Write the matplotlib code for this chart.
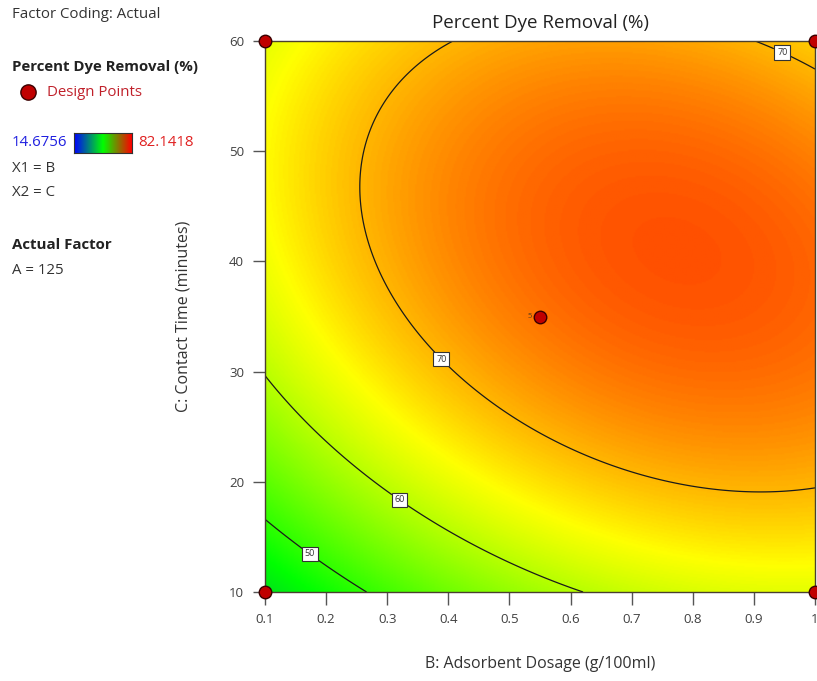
import numpy as np
import matplotlib
matplotlib.use("Agg")
import matplotlib.pyplot as plt
from matplotlib.colors import LinearSegmentedColormap, Normalize

plt.rcParams['font.family'] = ['Open Sans', 'DejaVu Sans']

# response range of the design (legend)
y_low, y_high = 14.6756, 82.1418

# quadratic model in coded units
b0 = 74.4
b_B = 6.33
b_C = 6.40
b_BC = -3.79
b_BB = -5.45
b_CC = -9.45

B_range = [0.1, 1.0]
C_range = [10, 60]
contour_levels = [50, 60, 70]
label_spots = [(0.175, 13.6), (0.323, 18.6), (0.39, 31.2), (0.95, 59.4)]

dp_B = [0.1, 0.1, 1.0, 1.0, 0.55]
dp_C = [10, 60, 10, 60, 35]
center_reps = "5"

x_ticks = [0.1, 0.2, 0.3, 0.4, 0.5, 0.6, 0.7, 0.8, 0.9, 1]
x_tick_labels = ["0.1", "0.2", "0.3", "0.4", "0.5", "0.6", "0.7", "0.8", "0.9", "1"]
y_ticks = [10, 20, 30, 40, 50, 60]


def model(B, C):
    u = (B - 0.55) / 0.45
    v = (C - 35) / 25
    return b0 + b_B*u + b_C*v + b_BC*u*v + b_BB*u**2 + b_CC*v**2


surf_cmap = LinearSegmentedColormap.from_list(
    "de", [(0.0, (0, 0, 1)), (0.47, (0, 1, 0)), (0.75, (1, 1, 0)), (1.0, (1, 0, 0))])
bar_cmap = LinearSegmentedColormap.from_list(
    "bar", [(0.0, (0, 0, 1)), (0.5, (0, 1, 0)), (1.0, (1, 0, 0))])

fig = plt.figure(figsize=(8.17, 6.81), dpi=100)
ax = fig.add_axes([265/817, 89/681, 550/817, 551/681])

bb = np.linspace(B_range[0], B_range[1], 400)
cc = np.linspace(C_range[0], C_range[1], 400)
BB, CC = np.meshgrid(bb, cc)
Z = model(BB, CC)

ax.imshow(Z, extent=[B_range[0], B_range[1], C_range[0], C_range[1]], origin='lower',
          aspect='auto', cmap=surf_cmap, norm=Normalize(y_low, y_high), interpolation='bilinear')
cs = ax.contour(BB, CC, Z, levels=contour_levels, colors='#1a1a1a', linewidths=0.9)
labels = ax.clabel(cs, fmt='%d', fontsize=6.5, inline=True, inline_spacing=4, manual=label_spots)
for t in labels:
    t.set_rotation(0)
    t.set_color('#333333')
    t.set_bbox(dict(boxstyle='square,pad=0.3', fc='white', ec='#333333', lw=0.8))

ax.plot(dp_B, dp_C, 'o', ms=9, mfc='#c00000', mec='#3a0000', mew=1, clip_on=False, zorder=5)
ax.text(dp_B[4] - 0.014, dp_C[4], center_reps, fontsize=5.5, color='#5a3a1a',
        ha='right', va='center')

ax.set_xlim(B_range)
ax.set_ylim(C_range)
ax.set_xticks(x_ticks)
ax.set_xticklabels(x_tick_labels)
ax.set_yticks(y_ticks)
ax.tick_params(direction='out', length=9, width=1, color='#555555', labelcolor='#404040',
               labelsize=9.5, pad=6)
for s in ax.spines.values():
    s.set_color('#4a4030')
    s.set_linewidth(1)

ax.set_title("Percent Dye Removal (%)", fontsize=13.5, color='#222222', pad=9)
ax.set_xlabel("B: Adsorbent Dosage (g/100ml)", fontsize=11.5, color='#333333', labelpad=22)
ax.set_ylabel("C: Contact Time (minutes)", fontsize=11.5, color='#333333', labelpad=27)

# legend panel on the left
def px(x, y):
    return x/817, 1 - y/681

fig.text(*px(12, 15), "Factor Coding: Actual", fontsize=10.8, color='#333333', va='center')
fig.text(*px(12, 67), "Percent Dye Removal (%)", fontsize=10.8, fontweight='bold',
         color='#222222', va='center')
fig.lines.append(plt.Line2D([28/817], [1 - 92/681], marker='o', ms=11, mfc='#c00000',
                            mec='#3a0000', mew=1, transform=fig.transFigure, figure=fig))
fig.text(*px(47, 92), "Design Points", fontsize=10.8, color='#c0202a', va='center')
fig.text(*px(12, 143), "14.6756", fontsize=10.8, color='#2020e0', va='center')
cax = fig.add_axes([74/817, 1 - 153/681, 58/817, 20/681])
cax.imshow(np.linspace(0, 1, 200)[None, :], aspect='auto', cmap=bar_cmap)
cax.set_xticks([])
cax.set_yticks([])
for s in cax.spines.values():
    s.set_color('#333333')
fig.text(*px(138, 143), "82.1418", fontsize=10.8, color='#e02020', va='center')
fig.text(*px(12, 168), "X1 = B", fontsize=10.8, color='#333333', va='center')
fig.text(*px(12, 193), "X2 = C", fontsize=10.8, color='#333333', va='center')
fig.text(*px(12, 245), "Actual Factor", fontsize=10.8, fontweight='bold', color='#222222', va='center')
fig.text(*px(12, 270), "A = 125", fontsize=10.8, color='#333333', va='center')

fig.savefig("out.png", dpi=100)
